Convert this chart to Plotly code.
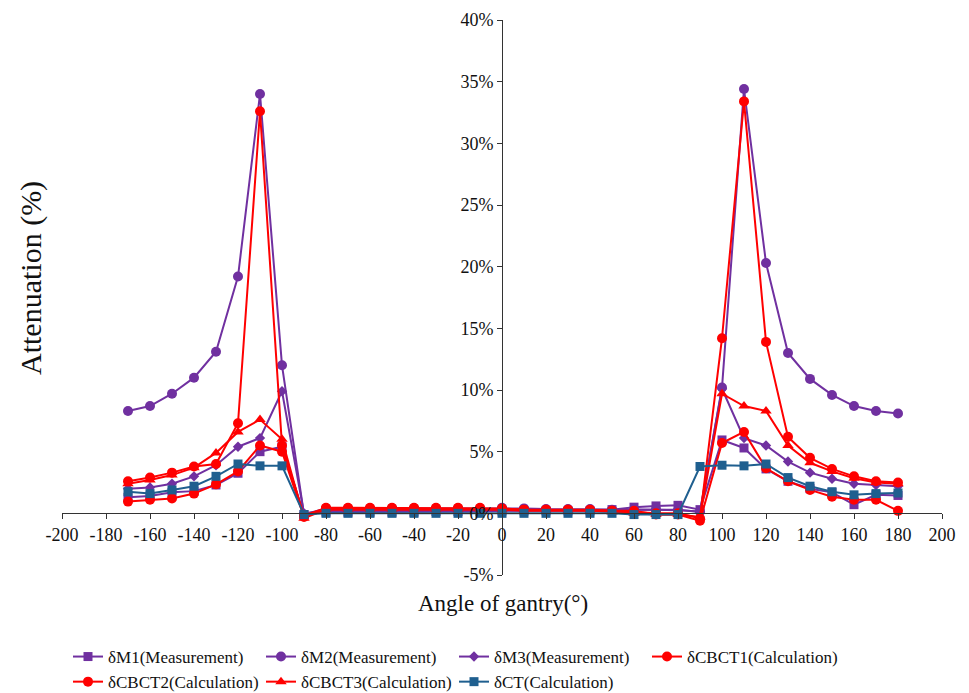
import plotly.graph_objects as go

angles = [-170, -160, -150, -140, -130, -120, -110, -100, -90,
          -80, -70, -60, -50, -40, -30, -20, -10, 0, 10, 20, 30, 40, 50, 60, 70, 80,
          90, 100, 110, 120, 130, 140, 150, 160, 170, 180]

dM1 = [1.3, 1.4, 1.7, 1.8, 2.3, 3.25, 5.0, 5.4, -0.1,
       0.1, 0.1, 0.1, 0.1, 0.1, 0.15, 0.15, 0.15, 0.2, 0.2, 0.2, 0.2, 0.2, 0.3, 0.5, 0.6, 0.65,
       0.3, 5.95, 5.3, 3.6, 2.6, 2.0, 1.7, 0.7, 1.5, 1.45]

dM2 = [8.3, 8.7, 9.7, 11.0, 13.1, 19.2, 34.0, 12.0, -0.1,
       0.4, 0.4, 0.4, 0.4, 0.4, 0.4, 0.4, 0.4, 0.45, 0.4, 0.35, 0.35, 0.35, 0.3, 0.3, 0.3, 0.25,
       0.15, 10.2, 34.4, 20.3, 13.0, 10.9, 9.6, 8.7, 8.3, 8.1]

dM3 = [2.0, 2.1, 2.4, 3.0, 3.9, 5.4, 6.1, 9.9, 0.0,
       0.2, 0.2, 0.2, 0.2, 0.2, 0.2, 0.2, 0.2, 0.2, 0.2, 0.2, 0.2, 0.2, 0.25, 0.3, 0.3, 0.3,
       0.1, 10.1, 6.1, 5.5, 4.2, 3.3, 2.8, 2.4, 2.3, 2.2]

dCBCT1 = [2.6, 2.9, 3.3, 3.8, 4.0, 7.3, 32.6, 5.5, -0.2,
          0.45, 0.45, 0.45, 0.45, 0.45, 0.45, 0.45, 0.45, 0.4, 0.3, 0.3, 0.3, 0.25, 0.2, 0.1, 0.0, 0.0,
          -0.4, 14.2, 33.4, 13.9, 6.2, 4.5, 3.6, 3.0, 2.6, 2.5]

dCBCT2 = [0.95, 1.1, 1.2, 1.6, 2.35, 3.4, 5.5, 5.0, -0.3,
          0.4, 0.4, 0.4, 0.4, 0.4, 0.4, 0.4, 0.4, 0.35, 0.3, 0.3, 0.3, 0.3, 0.2, 0.2, -0.1, -0.1,
          -0.6, 5.7, 6.6, 3.65, 2.6, 1.9, 1.35, 1.1, 1.1, 0.2]

dCBCT3 = [2.4, 2.7, 3.1, 3.7, 4.9, 6.6, 7.6, 6.0, -0.4,
          0.3, 0.3, 0.3, 0.3, 0.3, 0.3, 0.3, 0.3, 0.3, 0.2, 0.2, 0.2, 0.2, 0.1, 0.0, -0.1, -0.1,
          -0.3, 9.7, 8.7, 8.3, 5.5, 4.1, 3.4, 2.85, 2.5, 2.4]

dCT = [1.75, 1.6, 1.9, 2.2, 3.0, 4.0, 3.85, 3.85, -0.1,
       0.0, 0.0, 0.0, 0.0, 0.0, 0.0, 0.0, 0.0, 0.0, 0.0, 0.0, 0.0, 0.0, 0.0, -0.1, -0.1, -0.1,
       3.8, 3.9, 3.85, 4.0, 2.9, 2.2, 1.75, 1.5, 1.6, 1.65]

x_ticks = list(range(-200, 201, 20))
y_ticks = list(range(-5, 41, 5))

PURPLE = "#7030A0"
RED = "#FF0000"
BLUE = "#1F5F8F"

series = [
    ("δM1(Measurement)", dM1, PURPLE, "square", 9),
    ("δM2(Measurement)", dM2, PURPLE, "circle", 10),
    ("δM3(Measurement)", dM3, PURPLE, "diamond", 8),
    ("δCBCT1(Calculation)", dCBCT1, RED, "circle", 10),
    ("δCBCT2(Calculation)", dCBCT2, RED, "circle", 10),
    ("δCBCT3(Calculation)", dCBCT3, RED, "triangle-up", 10),
    ("δCT(Calculation)", dCT, BLUE, "square", 9),
]

fig = go.Figure()
for name, vals, color, sym, size in series:
    fig.add_trace(go.Scatter(
        x=angles, y=vals, name=name, mode="lines+markers",
        line=dict(color=color, width=2),
        marker=dict(color=color, symbol=sym, size=size),
    ))

FONT = "Liberation Serif"
OFF = 8  # page body margin
W, H = 969 - OFF, 693 - OFF
l, r, t, b = 62 - OFF, 27, 20 - OFF, 118
pw, ph = W - l - r, H - t - b


def px(sx):
    return (sx - OFF - l) / pw


def py(sy):
    return (H - b - (sy - OFF)) / ph


fig.update_layout(
    width=W, height=H,
    margin=dict(l=l, r=r, t=t, b=b, autoexpand=False),
    paper_bgcolor="white", plot_bgcolor="white",
    font=dict(family=FONT, size=18, color="#111111"),
    showlegend=True,
    legend=dict(
        orientation="h", x=px(68), xanchor="left", y=py(639), yanchor="top",
        font=dict(family=FONT, size=17, color="#111111"),
        entrywidth=148, entrywidthmode="pixels",
        tracegroupgap=0, itemwidth=30,
    ),
    xaxis=dict(
        range=[-200, 200], tickvals=x_ticks, ticktext=[str(v) for v in x_ticks],
        showgrid=False, zeroline=False, showline=True, linecolor="#333333", linewidth=1,
        ticks="outside", ticklen=5, tickcolor="#333333",
        anchor="free", position=5 / 45, domain=[0, 1],
        tickfont=dict(family=FONT, size=18, color="#111111"),
    ),
    yaxis=dict(
        range=[-5, 40], tickvals=y_ticks, ticktext=[f"{v}%" for v in y_ticks],
        showgrid=False, zeroline=False, showline=True, linecolor="#333333", linewidth=1,
        ticks="outside", ticklen=5, tickcolor="#333333",
        anchor="free", position=0.5, domain=[0, 1],
        tickfont=dict(family=FONT, size=18, color="#111111"),
    ),
    annotations=[
        dict(text="Attenuation (%)", x=px(31), y=py(278),
             xref="paper", yref="paper", xanchor="center", yanchor="middle",
             showarrow=False, textangle=-90,
             font=dict(family=FONT, size=30, color="#111111")),
        dict(text="Angle of gantry(°)", x=px(503), y=py(603),
             xref="paper", yref="paper", xanchor="center", yanchor="middle",
             showarrow=False,
             font=dict(family=FONT, size=23, color="#111111")),
    ],
)

fig.write_html("out.html")
